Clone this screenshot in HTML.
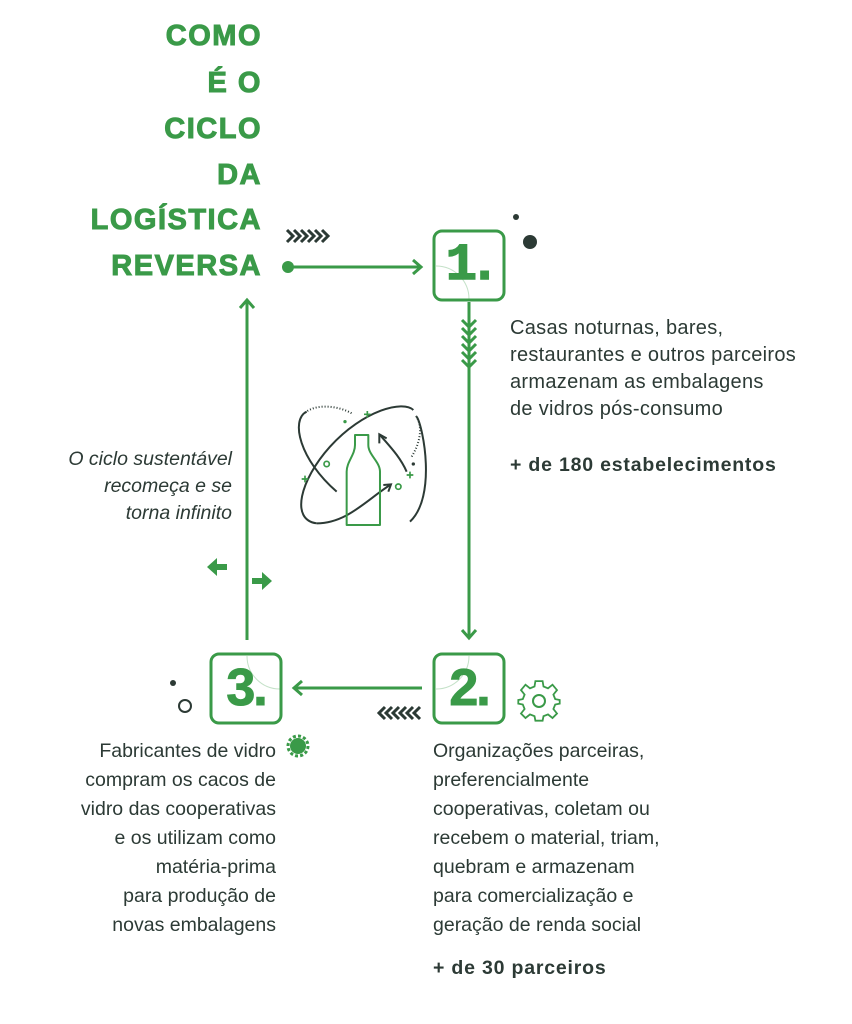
<!DOCTYPE html>
<html><head><meta charset="utf-8"><style>
body{margin:0;width:852px;height:1024px;background:#fff;position:relative;overflow:hidden;font-family:"Liberation Sans",sans-serif;color:#2c3a35}
.t{position:absolute;right:590px;color:#3a9a48;font-weight:900;font-size:29px;letter-spacing:1.5px;line-height:1;-webkit-text-stroke:1px #3a9a48}
.p{position:absolute;font-size:19.5px;line-height:29px}
.b{position:absolute;font-weight:bold;font-size:19.5px;letter-spacing:0.8px}
</style></head><body>
<div class="t" style="top:22px">COMO</div>
<div class="t" style="top:69px">É O</div>
<div class="t" style="top:115px">CICLO</div>
<div class="t" style="top:161px">DA</div>
<div class="t" style="top:206px">LOGÍSTICA</div>
<div class="t" style="top:252px">REVERSA</div>
<svg width="852" height="1024" style="position:absolute;left:0;top:0" fill="none">
<g stroke="#3a9a48" stroke-width="3">
<line x1="288" y1="267" x2="420" y2="267"/><polyline points="413,260 421,267 413,274"/>
<line x1="469" y1="302" x2="469" y2="638"/><polyline points="462,630 469,638 476,630"/>
<line x1="422" y1="688" x2="294" y2="688"/><polyline points="302,681 294,688 302,695"/>
<line x1="247" y1="640" x2="247" y2="300"/><polyline points="240,308 247,300 254,308"/>
<rect x="434" y="231" width="70" height="69" rx="8"/>
<rect x="434" y="654" width="70" height="69" rx="8"/>
<rect x="211" y="654" width="70" height="69" rx="8"/>
<path d="M462,320 469,327 476,320 M462,328 469,335 476,328 M462,336 469,343 476,336 M462,344 469,351 476,344 M462,352 469,359 476,352 M462,360 469,367 476,360"/>
</g>
<circle cx="288" cy="267" r="6" fill="#3a9a48"/>
<g stroke="#3a9a48" stroke-width="1" opacity="0.3"><path d="M436,266 A33,33 0 0 1 469,299"/><path d="M436,689 A33,33 0 0 0 469,656"/><path d="M247,656 A33,33 0 0 0 280,689"/></g>
<g stroke="#2c3a35" stroke-width="3"><path d="M287,230 293,236 287,242 M294,230 300,236 294,242 M301,230 307,236 301,242 M308,230 314,236 308,242 M315,230 321,236 315,242 M322,230 328,236 322,242"/>
<path d="M385,707 379,713 385,719 M392,707 386,713 392,719 M399,707 393,713 399,719 M406,707 400,713 406,719 M413,707 407,713 413,719 M420,707 414,713 420,719"/></g>
<circle cx="516" cy="217" r="3" fill="#2c3a35"/><circle cx="530" cy="242" r="7" fill="#2c3a35"/>
<circle cx="173" cy="683" r="3" fill="#2c3a35"/><circle cx="185" cy="706" r="6" stroke="#2c3a35" stroke-width="2"/>
<path d="M217,570 h10 v-6 h-10 v-6 l-10,9 l10,9z" fill="#3a9a48"/>
<path d="M262,584 h-10 v-6 h10 v-6 l10,9 l-10,9z" fill="#3a9a48"/>
<circle cx="298" cy="746" r="8" fill="#3a9a48"/><circle cx="298" cy="746" r="10" stroke="#3a9a48" stroke-width="3" stroke-dasharray="3 2.2"/>
<g stroke="#3a9a48" stroke-width="2" transform="translate(539,701)">
<circle r="6"/>
<path d="M-4,-21 L4,-21 L5,-15 L10,-13 L15,-17 L20,-11 L16,-6 L18,-1 L23,0 L23,4 L18,5 L16,10 L20,15 L15,20 L10,16 L5,18 L4,23 L-4,23 L-5,18 L-10,16 L-15,20 L-20,15 L-16,10 L-18,5 L-23,4 L-23,0 L-18,-1 L-16,-6 L-20,-11 L-15,-17 L-10,-13 L-5,-15 Z" transform="translate(0,-1) scale(0.9)"/>
</g>
<g transform="translate(280,380) scale(0.3333)">
<g stroke="#2c3a35" stroke-width="6" fill="none">
<path d="M170,335 C60,240 30,120 80,95"/>
<path d="M82,93 C120,70 180,80 215,100" stroke-dasharray="3 6"/>
<path d="M390,425 C470,350 430,140 410,110" />
<path d="M408,108 C430,140 420,190 395,230" stroke-dasharray="3 6"/>
<path d="M110,430 C30,420 60,300 150,200 C250,90 370,60 400,90"/>
<path d="M110,430 C200,430 260,360 330,315"/><polyline points="310,315 333,313 325,335"/>
<path d="M380,275 C360,230 330,200 300,165"/><polyline points="298,190 298,163 320,175"/>
</g>
<circle cx="195" cy="125" r="5" fill="#3a9a48"/><circle cx="400" cy="252" r="5" fill="#2c3a35"/>
<circle cx="140" cy="252" r="8" stroke="#3a9a48" stroke-width="5"/><circle cx="355" cy="320" r="8" stroke="#3a9a48" stroke-width="5"/>
<g stroke="#3a9a48" stroke-width="5"><path d="M252,103h20M262,93v20M65,297h20M75,287v20M380,285h20M390,275v20"/></g>
<path d="M225,165 h40 v30 c0,30 35,50 35,80 v160 h-100 v-160 c0,-30 25,-50 25,-80z" stroke="#3a9a48" stroke-width="6" stroke-linejoin="round"/>
</g>
</svg>
<div style="position:absolute;left:434px;top:231px;width:70px;height:69px;text-align:center;font:bold 52px/69px 'Liberation Mono',monospace;color:#3a9a48;letter-spacing:-8px;-webkit-text-stroke:1.5px #3a9a48">1.</div>
<div style="position:absolute;left:434px;top:654px;width:70px;height:69px;text-align:center;font:900 52px/69px 'Liberation Sans',sans-serif;color:#3a9a48;letter-spacing:-2px;-webkit-text-stroke:1px #3a9a48">2.</div>
<div style="position:absolute;left:211px;top:654px;width:70px;height:69px;text-align:center;font:900 52px/69px 'Liberation Sans',sans-serif;color:#3a9a48;letter-spacing:-2px;-webkit-text-stroke:1px #3a9a48">3.</div>
<div class="p" style="left:510px;top:315px;line-height:27px;font-size:20px;letter-spacing:0.3px">Casas noturnas, bares,<br>restaurantes e outros parceiros<br>armazenam as embalagens<br>de vidros pós-consumo</div>
<div class="b" style="left:510px;top:454px">+ de 180 estabelecimentos</div>
<div class="p" style="left:433px;top:737px">Organizações parceiras,<br>preferencialmente<br>cooperativas, coletam ou<br>recebem o material, triam,<br>quebram e armazenam<br>para comercialização e<br>geração de renda social</div>
<div class="b" style="left:433px;top:957px">+ de 30 parceiros</div>
<div class="p" style="right:576px;top:737px;text-align:right">Fabricantes de vidro<br>compram os cacos de<br>vidro das cooperativas<br>e os utilizam como<br>matéria-prima<br>para produção de<br>novas embalagens</div>
<div class="p" style="right:620px;top:446px;text-align:right;font-style:italic;line-height:27px">O ciclo sustentável<br>recomeça e se<br>torna infinito</div>
</body></html>
